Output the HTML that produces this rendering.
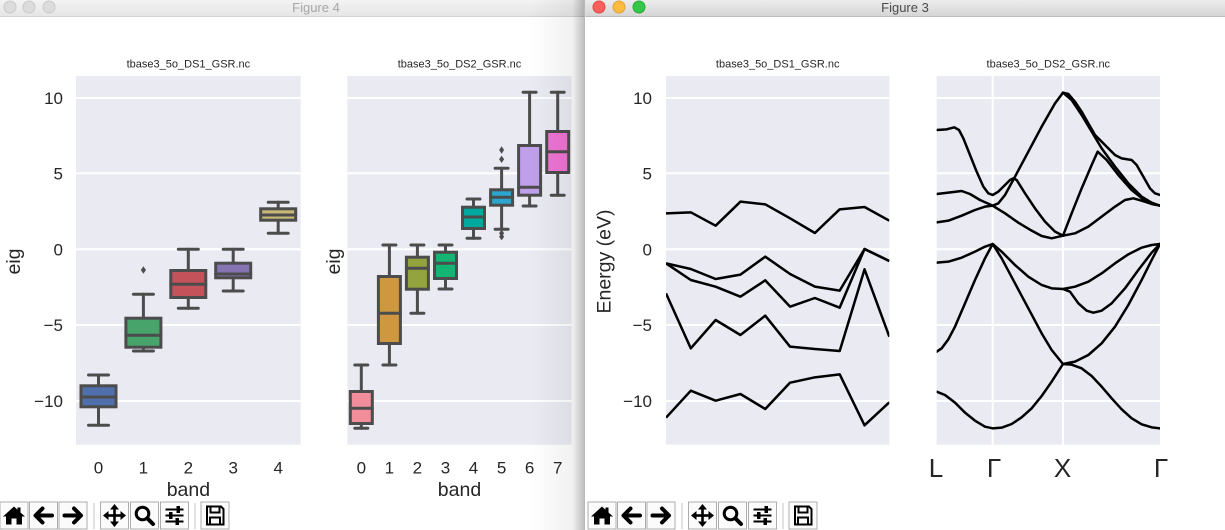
<!DOCTYPE html>
<html><head><meta charset="utf-8"><style>
html,body{margin:0;padding:0;background:#fff;overflow:hidden;width:1225px;height:530px}
svg{display:block}
text{font-family:"Liberation Sans",Arial,sans-serif;fill:#262626}
</style></head><body>
<svg width="1225" height="530" viewBox="0 0 1225 530" xmlns="http://www.w3.org/2000/svg">
<defs>
<linearGradient id="tb4" x1="0" y1="0" x2="0" y2="1"><stop offset="0" stop-color="#f3f3f3"/><stop offset="1" stop-color="#e5e5e5"/></linearGradient>
<linearGradient id="tb3" x1="0" y1="0" x2="0" y2="1"><stop offset="0" stop-color="#ececec"/><stop offset="1" stop-color="#d5d5d5"/></linearGradient>
<linearGradient id="shA" x1="0" y1="0" x2="1" y2="0"><stop offset="0" stop-color="#000" stop-opacity="0"/><stop offset="1" stop-color="#000" stop-opacity="0.055"/></linearGradient>
<linearGradient id="shB" x1="0" y1="0" x2="1" y2="0"><stop offset="0" stop-color="#000" stop-opacity="0.05"/><stop offset="1" stop-color="#000" stop-opacity="0.25"/></linearGradient>
<clipPath id="c3a"><rect x="666" y="76" width="223.3" height="368.7"/></clipPath>
<clipPath id="c3b"><rect x="936.7" y="76" width="223.3" height="368.7"/></clipPath>
<g id="btn"><rect x="-14" y="-13.5" width="28" height="27" fill="#fbfbfb" stroke="#acacac" stroke-width="1"/></g>
<g id="ihome"><path d="M0,-9 L-11,1 L-8,1 L-8,9 L-2.5,9 L-2.5,3 L2.5,3 L2.5,9 L8,9 L8,1 L11,1 L6.5,-3 L6.5,-8 L3.5,-8 L3.5,-5.7 Z" fill="#000"/></g>
<g id="iback" fill="none" stroke="#000" stroke-width="4" stroke-linecap="round" stroke-linejoin="round"><polyline points="-1,-7 -8,0 -1,7"/><line x1="-7" y1="0" x2="8.5" y2="0"/></g>
<g id="ifwd" fill="none" stroke="#000" stroke-width="4" stroke-linecap="round" stroke-linejoin="round"><polyline points="1,-7 8,0 1,7"/><line x1="7" y1="0" x2="-8.5" y2="0"/></g>
<g id="imove"><line x1="-8" y1="0" x2="8" y2="0" stroke="#000" stroke-width="2.6"/><line x1="0" y1="-8" x2="0" y2="8" stroke="#000" stroke-width="2.6"/><path d="M0,-11.5 L-4.5,-6 L4.5,-6 Z M0,11.5 L-4.5,6 L4.5,6 Z M-11.5,0 L-6,-4.5 L-6,4.5 Z M11.5,0 L6,-4.5 L6,4.5 Z" fill="#000"/></g>
<g id="izoom"><circle cx="-2" cy="-2" r="6.3" fill="none" stroke="#000" stroke-width="3"/><line x1="2.8" y1="2.8" x2="8.5" y2="8.5" stroke="#000" stroke-width="4" stroke-linecap="round"/></g>
<g id="iconf"><line x1="-9" y1="-6" x2="9" y2="-6" stroke="#000" stroke-width="2"/><line x1="-9" y1="0" x2="9" y2="0" stroke="#000" stroke-width="2"/><line x1="-9" y1="6" x2="9" y2="6" stroke="#000" stroke-width="2"/><rect x="2" y="-9.5" width="3.5" height="7" fill="#000"/><rect x="-5.5" y="-3.5" width="3.5" height="7" fill="#000"/><rect x="1" y="2.5" width="3.5" height="7" fill="#000"/></g>
<g id="isave" fill="none" stroke="#000" stroke-width="2"><path d="M-8,-9 L6,-9 L8.5,-6.5 L8.5,9 L-8,9 Z"/><rect x="-4.5" y="-9" width="9" height="6"/><rect x="-5" y="2" width="10" height="7"/></g>
</defs>
<rect width="1225" height="530" fill="#fff"/>

<!-- ===== Figure 4 window ===== -->
<rect x="0" y="0" width="584" height="16.5" fill="url(#tb4)"/>
<line x1="0" y1="16.5" x2="584" y2="16.5" stroke="#d2d2d2"/>
<circle cx="10" cy="7" r="6" fill="#dcdcdc" stroke="#c9c9c9"/>
<circle cx="29" cy="7" r="6" fill="#dcdcdc" stroke="#c9c9c9"/>
<circle cx="49" cy="7" r="6" fill="#dcdcdc" stroke="#c9c9c9"/>
<text x="316" y="12" font-size="13" text-anchor="middle" style="fill:#a6a6a6">Figure 4</text>

<!-- axes 1 -->
<rect x="76" y="76" width="224.7" height="368.7" fill="#eaeaf2"/>
<g stroke="#fff" stroke-width="2">
<line x1="76" y1="98" x2="300.7" y2="98"/><line x1="76" y1="173.3" x2="300.7" y2="173.3"/><line x1="76" y1="249.3" x2="300.7" y2="249.3"/><line x1="76" y1="325" x2="300.7" y2="325"/><line x1="76" y1="401" x2="300.7" y2="401"/>
</g>
<text x="188.4" y="67.5" font-size="11" text-anchor="middle">tbase3_5o_DS1_GSR.nc</text>
<g font-size="17" text-anchor="end">
<text x="63" y="104">10</text><text x="63" y="179.3">5</text><text x="63" y="255.3">0</text><text x="63" y="331">−5</text><text x="63" y="407">−10</text>
</g>
<text transform="translate(20,261.5) rotate(-90)" font-size="19.5" text-anchor="middle">eig</text>
<g font-size="17" text-anchor="middle">
<text x="98.5" y="473.5">0</text><text x="143.4" y="473.5">1</text><text x="188.3" y="473.5">2</text><text x="233.2" y="473.5">3</text><text x="278.2" y="473.5">4</text>
</g>
<text x="188.4" y="496" font-size="19.5" text-anchor="middle">band</text>

<g stroke="#4c4c4c" stroke-width="3" stroke-linecap="round">
<!-- box0 -->
<line x1="98.5" y1="375" x2="98.5" y2="385.8"/><line x1="98.5" y1="406.8" x2="98.5" y2="425.3"/>
<line x1="88.5" y1="375" x2="108.5" y2="375"/><line x1="88.5" y1="425.3" x2="108.5" y2="425.3"/>
<rect x="81" y="385.8" width="35" height="21" fill="#4f70ab"/><line x1="81" y1="397" x2="116" y2="397"/>
<!-- box1 -->
<line x1="143.4" y1="294.3" x2="143.4" y2="318.2"/><line x1="143.4" y1="347.2" x2="143.4" y2="351"/>
<line x1="133.4" y1="294.3" x2="153.4" y2="294.3"/><line x1="133.4" y1="351" x2="153.4" y2="351"/>
<rect x="125.9" y="318.2" width="35" height="29" fill="#47a56c"/><line x1="125.9" y1="335.3" x2="160.9" y2="335.3"/>
<!-- box2 -->
<line x1="188.3" y1="249.3" x2="188.3" y2="270.5"/><line x1="188.3" y1="297.5" x2="188.3" y2="308.3"/>
<line x1="178.3" y1="249.3" x2="198.3" y2="249.3"/><line x1="178.3" y1="308.3" x2="198.3" y2="308.3"/>
<rect x="170.8" y="270.5" width="35" height="27" fill="#c4525a"/><line x1="170.8" y1="284.3" x2="205.8" y2="284.3"/>
<!-- box3 -->
<line x1="233.2" y1="249.3" x2="233.2" y2="263.2"/><line x1="233.2" y1="277.8" x2="233.2" y2="291"/>
<line x1="223.2" y1="249.3" x2="243.2" y2="249.3"/><line x1="223.2" y1="291" x2="243.2" y2="291"/>
<rect x="215.7" y="263.2" width="35" height="14.6" fill="#8673b2"/><line x1="215.7" y1="274" x2="250.7" y2="274"/>
<!-- box4 -->
<line x1="278.2" y1="202.3" x2="278.2" y2="208.8"/><line x1="278.2" y1="220.2" x2="278.2" y2="233.3"/>
<line x1="268.2" y1="202.3" x2="288.2" y2="202.3"/><line x1="268.2" y1="233.3" x2="288.2" y2="233.3"/>
<rect x="260.7" y="208.8" width="35" height="11.4" fill="#c8b878"/><line x1="260.7" y1="215" x2="295.7" y2="215"/>
</g>
<path d="M143.4,266.3 L146,270 L143.4,273.7 L140.8,270 Z" fill="#4c4c4c"/>

<!-- axes 2 -->
<rect x="347.3" y="76" width="224.4" height="368.7" fill="#eaeaf2"/>
<g stroke="#fff" stroke-width="2">
<line x1="347.3" y1="98" x2="571.7" y2="98"/><line x1="347.3" y1="173.3" x2="571.7" y2="173.3"/><line x1="347.3" y1="249.3" x2="571.7" y2="249.3"/><line x1="347.3" y1="325" x2="571.7" y2="325"/><line x1="347.3" y1="401" x2="571.7" y2="401"/>
</g>
<text x="459.5" y="67.5" font-size="11" text-anchor="middle">tbase3_5o_DS2_GSR.nc</text>
<text transform="translate(340,261.5) rotate(-90)" font-size="19.5" text-anchor="middle">eig</text>
<g font-size="17" text-anchor="middle">
<text x="361.3" y="473.5">0</text><text x="389.4" y="473.5">1</text><text x="417.4" y="473.5">2</text><text x="445.5" y="473.5">3</text><text x="473.5" y="473.5">4</text><text x="501.6" y="473.5">5</text><text x="529.6" y="473.5">6</text><text x="557.7" y="473.5">7</text>
</g>
<text x="459.5" y="496" font-size="19.5" text-anchor="middle">band</text>

<g stroke="#4c4c4c" stroke-width="3" stroke-linecap="round">
<!-- 0 -->
<line x1="361.3" y1="365" x2="361.3" y2="391.5"/><line x1="361.3" y1="423.5" x2="361.3" y2="428.3"/>
<line x1="354.8" y1="365" x2="367.8" y2="365"/><line x1="354.8" y1="428.3" x2="367.8" y2="428.3"/>
<rect x="350.3" y="391.5" width="22" height="32" fill="#f28d9c"/><line x1="350.3" y1="408.3" x2="372.3" y2="408.3"/>
<!-- 1 -->
<line x1="389.4" y1="245" x2="389.4" y2="276.5"/><line x1="389.4" y1="343.5" x2="389.4" y2="365"/>
<line x1="382.9" y1="245" x2="395.9" y2="245"/><line x1="382.9" y1="365" x2="395.9" y2="365"/>
<rect x="378.4" y="276.5" width="22" height="67" fill="#cf973f"/><line x1="378.4" y1="313.3" x2="400.4" y2="313.3"/>
<!-- 2 -->
<line x1="417.4" y1="245" x2="417.4" y2="257.2"/><line x1="417.4" y1="289.2" x2="417.4" y2="313.3"/>
<line x1="410.9" y1="245" x2="423.9" y2="245"/><line x1="410.9" y1="313.3" x2="423.9" y2="313.3"/>
<rect x="406.4" y="257.2" width="22" height="32" fill="#93a43e"/><line x1="406.4" y1="268.3" x2="428.4" y2="268.3"/>
<!-- 3 -->
<line x1="445.5" y1="245" x2="445.5" y2="252.2"/><line x1="445.5" y1="278.5" x2="445.5" y2="289"/>
<line x1="439" y1="245" x2="452" y2="245"/><line x1="439" y1="289" x2="452" y2="289"/>
<rect x="434.5" y="252.2" width="22" height="26.3" fill="#12b574"/><line x1="434.5" y1="263.3" x2="456.5" y2="263.3"/>
<!-- 4 -->
<line x1="473.5" y1="199" x2="473.5" y2="207.2"/><line x1="473.5" y1="228.5" x2="473.5" y2="238.3"/>
<line x1="467" y1="199" x2="480" y2="199"/><line x1="467" y1="238.3" x2="480" y2="238.3"/>
<rect x="462.5" y="207.2" width="22" height="21.3" fill="#00a99d"/><line x1="462.5" y1="217" x2="484.5" y2="217"/>
<!-- 5 -->
<line x1="501.6" y1="168.3" x2="501.6" y2="189.8"/><line x1="501.6" y1="205.2" x2="501.6" y2="229.3"/>
<line x1="495.1" y1="168.3" x2="508.1" y2="168.3"/><line x1="495.1" y1="229.3" x2="508.1" y2="229.3"/>
<rect x="490.6" y="189.8" width="22" height="15.4" fill="#2ba7cf"/><line x1="490.6" y1="197.3" x2="512.6" y2="197.3"/>
<!-- 6 -->
<line x1="529.6" y1="92.3" x2="529.6" y2="145.5"/><line x1="529.6" y1="195.2" x2="529.6" y2="206"/>
<line x1="523.1" y1="92.3" x2="536.1" y2="92.3"/><line x1="523.1" y1="206" x2="536.1" y2="206"/>
<rect x="518.6" y="145.5" width="22" height="49.7" fill="#c09fea"/><line x1="518.6" y1="187.3" x2="540.6" y2="187.3"/>
<!-- 7 -->
<line x1="557.7" y1="92.3" x2="557.7" y2="131.5"/><line x1="557.7" y1="172.5" x2="557.7" y2="195.3"/>
<line x1="551.2" y1="92.3" x2="564.2" y2="92.3"/><line x1="551.2" y1="195.3" x2="564.2" y2="195.3"/>
<rect x="546.7" y="131.5" width="22" height="41" fill="#ee74d4"/><line x1="546.7" y1="151.7" x2="568.7" y2="151.7"/>
</g>
<g fill="#4c4c4c">
<path d="M501.6,146.3 L504.1,150 L501.6,153.7 L499.1,150 Z"/>
<path d="M501.6,155.6 L504.1,159.3 L501.6,163 L499.1,159.3 Z"/>
<path d="M501.6,229.6 L504.1,233.3 L501.6,237 L499.1,233.3 Z"/>
<path d="M501.6,233 L504.1,236.7 L501.6,240.4 L499.1,236.7 Z"/>
</g>

<!-- toolbar fig4 -->
<g transform="translate(14,515.5)"><use href="#btn"/><use href="#ihome"/></g>
<g transform="translate(43.5,515.5)"><use href="#btn"/><use href="#iback"/></g>
<g transform="translate(73,515.5)"><use href="#btn"/><use href="#ifwd"/></g>
<line x1="94" y1="503" x2="94" y2="529" stroke="#c4c4c4"/>
<g transform="translate(114.5,515.5)"><use href="#btn"/><use href="#imove"/></g>
<g transform="translate(144.5,515.5)"><use href="#btn"/><use href="#izoom"/></g>
<g transform="translate(174.5,515.5)"><use href="#btn"/><use href="#iconf"/></g>
<line x1="195" y1="503" x2="195" y2="529" stroke="#c4c4c4"/>
<g transform="translate(215,515.5)"><use href="#btn"/><use href="#isave"/></g>

<!-- shadow -->
<rect x="530" y="0" width="42" height="530" fill="url(#shA)"/>
<rect x="572" y="0" width="12" height="530" fill="url(#shB)"/>
<line x1="584.5" y1="0" x2="584.5" y2="530" stroke="#b9b9b9"/>

<!-- ===== Figure 3 window ===== -->
<rect x="585" y="0" width="640" height="16.5" fill="url(#tb3)"/>
<line x1="585" y1="16.5" x2="1225" y2="16.5" stroke="#bdbdbd"/>
<circle cx="599" cy="7" r="6" fill="#fc605c" stroke="#df4944"/>
<circle cx="619" cy="7" r="6" fill="#fdbc40" stroke="#dfa236"/>
<circle cx="639" cy="7" r="6" fill="#34c84a" stroke="#28aa36"/>
<text x="905" y="12" font-size="13" text-anchor="middle" style="fill:#4a4a4a">Figure 3</text>

<!-- axes 3a -->
<rect x="666" y="76" width="223.3" height="368.7" fill="#eaeaf2"/>
<g stroke="#fff" stroke-width="2">
<line x1="666" y1="98" x2="889.3" y2="98"/><line x1="666" y1="173.3" x2="889.3" y2="173.3"/><line x1="666" y1="249.3" x2="889.3" y2="249.3"/><line x1="666" y1="325" x2="889.3" y2="325"/><line x1="666" y1="401" x2="889.3" y2="401"/>
</g>
<text x="777.7" y="67.5" font-size="11" text-anchor="middle">tbase3_5o_DS1_GSR.nc</text>
<g font-size="17" text-anchor="end">
<text x="652" y="104">10</text><text x="652" y="179.3">5</text><text x="652" y="255.3">0</text><text x="652" y="331">−5</text><text x="652" y="407">−10</text>
</g>
<text transform="translate(610.5,261.5) rotate(-90)" font-size="19.5" text-anchor="middle">Energy (eV)</text>
<g clip-path="url(#c3a)">
<g transform="translate(590,70) scale(0.33333)" fill="none" stroke="#000" stroke-width="7.5" stroke-linejoin="round">
<polyline points="228,430 302.4,427 376.9,467 451.3,395 525.8,403 600.2,445 674.7,489 749.1,418 823.6,411 898,452"/>
<polyline points="228,580 302.4,597 376.9,627 451.3,614 525.8,560 600.2,612 674.7,650 749.1,662 823.6,537 898,573"/>
<polyline points="228,580 302.4,630 376.9,650 451.3,680 525.8,631 600.2,710 674.7,684 749.1,713 823.6,537 898,573"/>
<polyline points="228,670 302.4,835 376.9,750 451.3,795 525.8,737 600.2,830 674.7,837 749.1,843 823.6,598 898,800"/>
<polyline points="228,1043 302.4,962 376.9,992 451.3,972 525.8,1017 600.2,938 674.7,922 749.1,913 823.6,1066 898,997"/>
</g>
</g>

<!-- axes 3b -->
<rect x="936.7" y="76" width="223.3" height="368.7" fill="#eaeaf2"/>
<g stroke="#fff" stroke-width="2">
<line x1="936.7" y1="98" x2="1160" y2="98"/><line x1="936.7" y1="173.3" x2="1160" y2="173.3"/><line x1="936.7" y1="249.3" x2="1160" y2="249.3"/><line x1="936.7" y1="325" x2="1160" y2="325"/><line x1="936.7" y1="401" x2="1160" y2="401"/>
<line x1="992.7" y1="76" x2="992.7" y2="444.7"/><line x1="1063" y1="76" x2="1063" y2="444.7"/>
</g>
<text x="1048.3" y="67.5" font-size="11" text-anchor="middle">tbase3_5o_DS2_GSR.nc</text>
<g font-size="26" text-anchor="middle">
<text x="936" y="477">L</text><text x="994" y="477">Γ</text><text x="1062.5" y="477">X</text><text x="1161" y="477">Γ</text>
</g>
<g clip-path="url(#c3b)">
<g transform="translate(915,70) scale(0.33333)" fill="none" stroke="#000" stroke-width="7.5" stroke-linejoin="round" stroke-linecap="round">
<!-- valence -->
<polyline points="65,965 90,975 120,998 150,1028 180,1052 210,1070 233,1075 260,1073 290,1062 320,1042 350,1015 380,978 410,935 444,882 470,884 500,895 530,918 560,950 590,985 620,1018 650,1045 680,1063 710,1072 735,1075"/>
<polyline points="65,845 80,835 100,808 120,770 150,700 180,630 210,565 233,522 260,565 300,640 340,715 380,790 410,840 444,882 480,875 520,855 560,820 600,770 640,705 680,630 710,570 735,522"/>
<polyline points="65,578 100,575 140,563 180,545 210,530 233,522 260,545 300,585 340,620 380,645 410,655 444,657 480,650 520,635 560,610 600,580 640,553 680,533 710,525 735,522"/>
<polyline points="444,657 465,665 490,700 515,722 535,728 560,722 590,700 630,655 670,600 710,548 735,522"/>
<!-- conduction -->
<polyline points="65,180 95,178 118,172 132,180 145,205 165,255 185,305 205,350 220,370 233,375 250,365 270,345 285,330 295,325 305,330 330,370 360,415 390,455 420,485 444,497"/>
<polyline points="65,372 100,368 140,363 165,372 195,390 233,407 270,430 310,458 350,482 380,498 410,505 444,497"/>
<polyline points="65,457 100,452 140,437 180,420 210,410 233,407 250,400 270,375 300,320 340,245 380,170 420,100 444,68"/>
<polyline points="444,68 460,72 480,95 500,125 520,160 540,195 560,215 580,235 600,255 620,265 650,270 665,285 685,320 705,355 720,370 735,375"/>
<polyline points="444,68 470,90 500,135 530,185 560,235 600,290 640,340 680,380 710,398 735,407"/>
<polyline points="444,497 470,430 500,355 530,285 548,245 575,270 610,315 650,360 690,392 735,407"/>
<polyline points="444,497 480,490 520,470 560,440 600,410 630,390 655,385 680,392 710,402 735,407"/>
</g>
</g>

<!-- toolbar fig3 -->
<g transform="translate(602,515.5)"><use href="#btn"/><use href="#ihome"/></g>
<g transform="translate(631.5,515.5)"><use href="#btn"/><use href="#iback"/></g>
<g transform="translate(661,515.5)"><use href="#btn"/><use href="#ifwd"/></g>
<line x1="682" y1="503" x2="682" y2="529" stroke="#c4c4c4"/>
<g transform="translate(702.5,515.5)"><use href="#btn"/><use href="#imove"/></g>
<g transform="translate(732.5,515.5)"><use href="#btn"/><use href="#izoom"/></g>
<g transform="translate(762.5,515.5)"><use href="#btn"/><use href="#iconf"/></g>
<line x1="783" y1="503" x2="783" y2="529" stroke="#c4c4c4"/>
<g transform="translate(803,515.5)"><use href="#btn"/><use href="#isave"/></g>
</svg>
</body></html>
